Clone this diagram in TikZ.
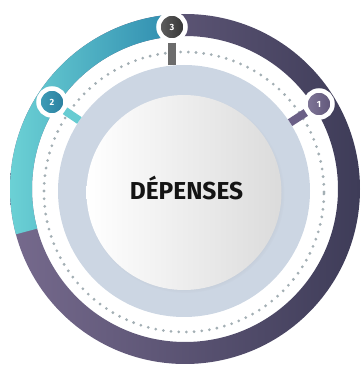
\documentclass[tikz,border=0pt]{standalone}
\usepackage{fontspec}
\setmainfont{Fira Sans}
\usepackage{xcolor}
\usepackage{tikz}
\usetikzlibrary{positioning, calc, shadows}
\definecolor{purpleL}{HTML}{766A8D}
\definecolor{purpleD}{HTML}{3E3C58}
\definecolor{cyanL}{HTML}{6DD3D6}
\definecolor{cyanD}{HTML}{2F8CAF}
\definecolor{diskblue}{HTML}{CCD6E3}
\definecolor{dotgray}{HTML}{A3AFB4}
\definecolor{stubgray}{HTML}{6C6C6C}
\definecolor{markpurple}{HTML}{6A5F86}
\tikzstyle{stub} = [line width=8pt]

\begin{document}
\begin{tikzpicture}[x=1pt, y=1pt,
    marker/.style={circle, minimum size=27pt, inner sep=0pt, draw=white, line width=4.5pt, text=white, font=\bfseries\fontsize{9}{9}\selectfont,
      circular drop shadow={shadow xshift=0pt, shadow yshift=0pt, shadow scale=1.1, opacity=0.3}}]
    \useasboundingbox (0,0) rectangle (363,365);

    % Outer ring
    \shade[left color=purpleL, right color=purpleD, even odd rule] (185,176) circle (175) (185,176) circle (153);
    \shade[left color=cyanL, middle color=cyanL!80!cyanD, right color=cyanD]
      ($(185,176)+(94:175)$) arc (94:195:175) -- ($(185,176)+(195:153)$) arc (195:94:153) -- cycle;

    % Dotted circle
    \draw[dotgray, line width=3.1pt, dash pattern=on 0pt off 7.7pt, line cap=round] (184,173) circle (140);

    % Disks
    \node[circle, fill=diskblue, minimum size=252pt, inner sep=0pt] (disk) at (184,174) {};
    \node[circle, minimum size=195pt, inner sep=0pt, left color=white, right color=black!14,
      circular drop shadow={shadow xshift=1.5pt, shadow yshift=-1.5pt, opacity=0.25, shadow scale=1.015}] (core) at (184,172.5) {};
    \node[font=\bfseries\fontsize{24.5}{24.5}\selectfont, text=black!92] (title) at (186.5,177) {DÉPENSES};

    % Markers
    \node[marker, left color=black!62, right color=black!80] (m3) at (172,338) {3};
    \node[marker, left color=cyanD!75!cyanL, right color=cyanD!90!black] (m2) at (52,263) {2};
    \node[marker, left color=markpurple!85!white, right color=markpurple!90!black] (m1) at (319,261) {1};

    % Stubs
    \draw[stub, stubgray] (m3.south) -- (m3.south |- disk.north);
    \draw[stub, cyanL!90!cyanD] (m2) -- (disk);
    \draw[stub, markpurple] (m1) -- (disk);
\end{tikzpicture}
\end{document}
